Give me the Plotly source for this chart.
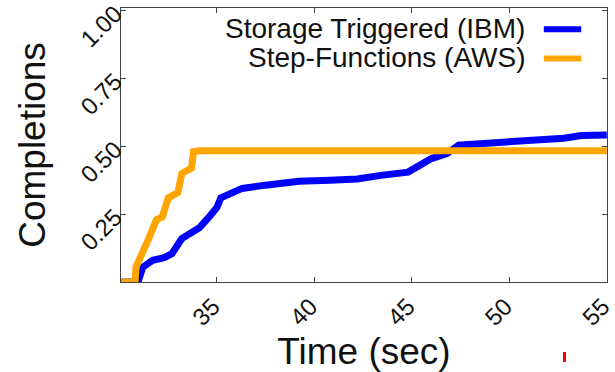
import plotly.graph_objects as go

# Completion curves (fraction of jobs completed vs. time in seconds)
ibm_time = [30.1, 30.95, 31.2, 31.7, 32.3, 32.7, 33.2, 33.7, 34.1, 34.6, 35.0, 35.2,
            35.8, 36.3, 37.5, 39.2, 40.8, 42.2, 43.4, 44.8, 45.4, 46.0, 46.8, 47.4,
            48.5, 51.1, 52.8, 53.7, 55.0]
ibm_done = [0.0, 0.0, 0.055, 0.08, 0.09, 0.105, 0.16, 0.18, 0.20, 0.24, 0.275, 0.31,
            0.33, 0.345, 0.357, 0.371, 0.375, 0.38, 0.393, 0.405, 0.43, 0.455, 0.473, 0.504,
            0.51, 0.52, 0.53, 0.54, 0.542]

aws_time = [30.1, 30.8, 30.85, 31.1, 31.5, 31.9, 32.2, 32.5, 33.0, 33.2, 33.7, 33.8, 34.1, 55.0]
aws_done = [0.0, 0.0, 0.055, 0.09, 0.16, 0.23, 0.24, 0.31, 0.33, 0.40, 0.42, 0.48, 0.484, 0.484]

series_names = ["Storage Triggered (IBM)", "Step-Functions (AWS)"]
series_colors = ["#0000ff", "#ffa500"]

x_ticks = [35, 40, 45, 50, 55]
y_ticks = [0.25, 0.50, 0.75, 1.00]
y_tick_text = ["0.25", "0.50", "0.75", "1.00"]

FONT = "Liberation Sans, Arial, Helvetica, sans-serif"

fig = go.Figure()
for t, v, name, color in [(ibm_time, ibm_done, series_names[0], series_colors[0]),
                          (aws_time, aws_done, series_names[1], series_colors[1])]:
    fig.add_trace(go.Scatter(x=t, y=v, mode="lines", name=name,
                             line=dict(color=color, width=7), showlegend=False))

# Legend drawn with the label to the left of its line swatch
for i, (name, color) in enumerate(zip(series_names, series_colors)):
    ypos = 0.926 - i * 0.108
    fig.add_annotation(x=0.835, y=ypos, xref="paper", yref="paper", text=name,
                       showarrow=False, xanchor="right", yanchor="middle",
                       font=dict(family=FONT, size=28, color="#111"))
    sy = 0.922 - i * 0.106
    fig.add_shape(type="line", xref="paper", yref="paper",
                  x0=0.87, x1=0.947, y0=sy, y1=sy,
                  line=dict(color=color, width=6))

# small red mark below the plot
fig.add_shape(type="rect", xref="paper", yref="paper",
              x0=(563 - 121) / 486, x1=(566 - 121) / 486,
              y0=-(352 - 282) / 274, y1=-(362 - 282) / 274,
              line=dict(width=0), fillcolor="#ff0000")

fig.update_layout(
    width=615, height=372,
    margin=dict(l=121, r=8, t=8, b=90),
    paper_bgcolor="white", plot_bgcolor="white",
    font=dict(family=FONT, color="#111"),
)
fig.update_xaxes(range=[30.08, 55.01], tickvals=x_ticks, ticks="inside", ticklen=5,
                 tickcolor="#444", showline=True, linecolor="#444", linewidth=1,
                 mirror="ticks", showgrid=False, zeroline=False, tickangle=-45,
                 tickfont=dict(size=24), automargin=False, ticklabeloverflow="allow",
                 ticklabelshift=-4,
                 title=dict(text="Time (sec)", font=dict(size=37), standoff=4))
fig.update_yaxes(range=[0, 1.01], tickvals=y_ticks, ticktext=y_tick_text, ticks="inside",
                 ticklen=5, tickcolor="#444", showline=True, linecolor="#444", linewidth=1,
                 mirror="ticks", showgrid=False, zeroline=False, tickangle=-45,
                 tickfont=dict(size=24), automargin=False, ticklabeloverflow="allow",
                 title=dict(text="Completions", font=dict(size=37), standoff=18))

fig.write_html("out.html")
